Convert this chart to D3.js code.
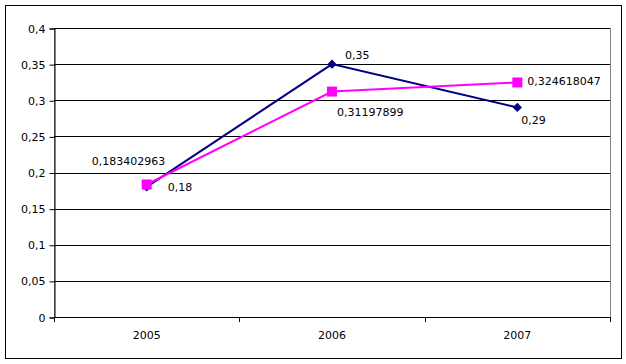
<!DOCTYPE html>
<html>
<head>
<meta charset="utf-8">
<script src="https://cdn.jsdelivr.net/npm/d3@7"></script>
<style>
  body { margin: 0; background: #fff; }
  svg text { font-family: "DejaVu Sans", sans-serif; font-size: 11px; fill: #000; }
</style>
</head>
<body>
<div id="chart"></div>
<script>
// Data.
var years = ["2005", "2006", "2007"];
var seriesA = [0.18, 0.35, 0.29];
var seriesB = [0.183402963, 0.31197899, 0.324618047];
var yTicks = [0, 0.05, 0.1, 0.15, 0.2, 0.25, 0.3, 0.35, 0.4];

var fmt = function (v) { return String(v).replace(".", ","); };

var W = 626, H = 364;
var plotL = 54, plotR = 610, plotT = 28, plotB = 317;

var svg = d3.select("#chart").append("svg")
  .attr("width", W).attr("height", H);

// Outer frame.
svg.append("rect")
  .attr("x", 5.5).attr("y", 5.5)
  .attr("width", 616).attr("height", 353)
  .attr("fill", "#fff").attr("stroke", "#000");

var x = d3.scaleBand().domain(years).range([plotL, plotR]);
var y = d3.scaleLinear().domain([0, 0.4]).range([plotB, plotT]);

// Plot area border (gray) and gridlines.
svg.append("rect")
  .attr("x", plotL + 0.5).attr("y", plotT + 0.5)
  .attr("width", plotR - plotL).attr("height", plotB - plotT)
  .attr("fill", "#fff").attr("stroke", "#808080");

svg.append("g").selectAll("line")
  .data(yTicks.slice(1))
  .enter().append("line")
  .attr("x1", plotL).attr("x2", plotR)
  .attr("y1", function (d) { return Math.round(y(d)) + 0.5; })
  .attr("y2", function (d) { return Math.round(y(d)) + 0.5; })
  .attr("stroke", "#000");

// Axes.
var yAxis = d3.axisLeft(y).tickValues(yTicks).tickFormat(fmt).tickSize(5).tickPadding(4);
var gy = svg.append("g")
  .attr("transform", "translate(" + (plotL + 0.5) + ",0.5)")
  .call(yAxis);
gy.select(".domain").attr("stroke", "#000");
gy.selectAll(".tick line").attr("stroke", "#000");
gy.selectAll("text").style("font-size", "11px");

var xAxis = d3.axisBottom(x).tickSize(0).tickPadding(14);
var gx = svg.append("g")
  .attr("transform", "translate(0," + (plotB + 0.5) + ")")
  .call(xAxis);
gx.select(".domain").attr("stroke", "#000").attr("d", "M" + plotL + ",0H" + plotR);
gx.selectAll("text").style("font-size", "11px");

// Category boundary ticks.
var edges = years.map(function (d) { return x(d); }).concat([plotR]);
svg.append("g").selectAll("line")
  .data(edges)
  .enter().append("line")
  .attr("x1", function (d) { return Math.round(d) + 0.5; })
  .attr("x2", function (d) { return Math.round(d) + 0.5; })
  .attr("y1", plotB).attr("y2", plotB + 5)
  .attr("stroke", "#000");

var cx = function (d, i) { return x(years[i]) + x.bandwidth() / 2; };

var line = d3.line()
  .x(function (d, i) { return cx(d, i); })
  .y(function (d) { return y(d); });

// Series A (navy diamonds).
svg.append("path").datum(seriesA)
  .attr("d", line).attr("fill", "none")
  .attr("stroke", "#000080").attr("stroke-width", 2);
svg.append("g").selectAll("path")
  .data(seriesA)
  .enter().append("path")
  .attr("d", d3.symbol().type(d3.symbolDiamond2).size(55))
  .attr("transform", function (d, i) { return "translate(" + cx(d, i) + "," + y(d) + ")"; })
  .attr("fill", "#000080");

// Series B (magenta squares).
svg.append("path").datum(seriesB)
  .attr("d", line).attr("fill", "none")
  .attr("stroke", "#ff00ff").attr("stroke-width", 2);
svg.append("g").selectAll("rect")
  .data(seriesB)
  .enter().append("rect")
  .attr("x", function (d, i) { return cx(d, i) - 5; })
  .attr("y", function (d) { return y(d) - 5; })
  .attr("width", 10).attr("height", 10)
  .attr("fill", "#ff00ff");

// Data labels (offsets relative to the point).
var offA = [[21, 0], [13, -9], [4, 13]];
var offB = [[-55, -23], [5, 21], [10, -1]];
svg.append("g").selectAll("text")
  .data(seriesA)
  .enter().append("text")
  .attr("x", function (d, i) { return cx(d, i) + offA[i][0]; })
  .attr("y", function (d, i) { return y(d) + offA[i][1]; })
  .attr("dy", "0.35em")
  .text(fmt);
svg.append("g").selectAll("text")
  .data(seriesB)
  .enter().append("text")
  .attr("x", function (d, i) { return cx(d, i) + offB[i][0]; })
  .attr("y", function (d, i) { return y(d) + offB[i][1]; })
  .attr("dy", "0.35em")
  .attr("text-anchor", "start")
  .text(fmt);
</script>
</body>
</html>
